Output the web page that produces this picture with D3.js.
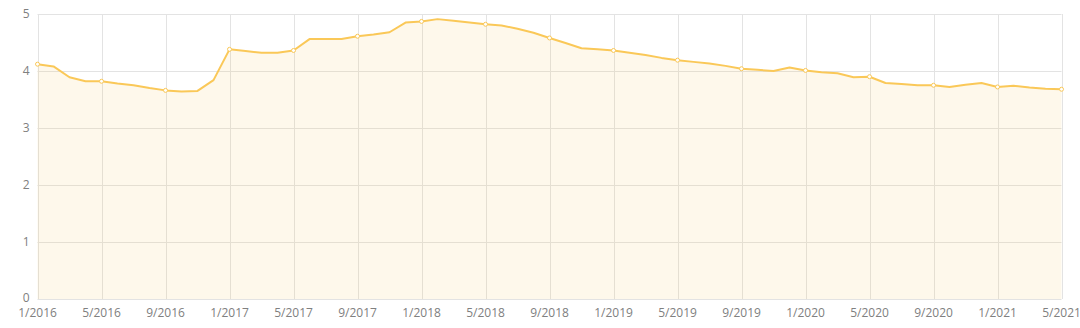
<!DOCTYPE html>
<html>
<head>
<meta charset="utf-8">
<script src="https://cdn.jsdelivr.net/npm/d3@7"></script>
<style>
  html, body { margin: 0; padding: 0; background: #fff; }
  svg { display: block; font-family: "Open Sans", sans-serif; }
</style>
</head>
<body>
<svg width="1080" height="328"></svg>
<script>
// monthly values, 1/2016 .. 5/2021
const values = [
  4.12, 4.08, 3.89, 3.82, 3.82, 3.78, 3.75, 3.70, 3.66, 3.64, 3.65, 3.84,
  4.38, 4.35, 4.32, 4.32, 4.36, 4.56, 4.56, 4.56, 4.61, 4.64, 4.68, 4.85,
  4.87, 4.91, 4.88, 4.85, 4.82, 4.80, 4.74, 4.67, 4.58, 4.49, 4.40, 4.38,
  4.36, 4.32, 4.28, 4.23, 4.19, 4.16, 4.13, 4.09, 4.04, 4.02, 4.00, 4.06,
  4.01, 3.98, 3.96, 3.89, 3.90, 3.79, 3.77, 3.75, 3.75, 3.72, 3.76, 3.79,
  3.72, 3.74, 3.71, 3.69, 3.68
];
const months = d3.timeMonth.range(new Date(2016, 0, 1), new Date(2021, 5, 1));
const labels = months.map(d => `${d.getMonth() + 1}/${d.getFullYear()}`);
const yTicks = [0, 1, 2, 3, 4, 5];
const labelEvery = 4;

const margin = { top: 14, right: 18.5, bottom: 29, left: 37.5 };
const width = 1080, height = 328;

const svg = d3.select('svg');

const x = d3.scalePoint()
  .domain(labels)
  .range([margin.left, width - margin.right]);

const y = d3.scaleLinear()
  .domain([0, 5])
  .range([height - margin.bottom, margin.top]);

const tickLabels = labels.filter((_, i) => i % labelEvery === 0);

// grid
svg.append('g')
  .selectAll('line.h')
  .data(yTicks)
  .join('line')
  .attr('x1', margin.left)
  .attr('x2', width - margin.right)
  .attr('y1', d => Math.round(y(d)) + 0.5)
  .attr('y2', d => Math.round(y(d)) + 0.5)
  .attr('stroke', '#e3e3e3');

svg.append('g')
  .selectAll('line.v')
  .data(tickLabels)
  .join('line')
  .attr('x1', d => Math.round(x(d)) + 0.5)
  .attr('x2', d => Math.round(x(d)) + 0.5)
  .attr('y1', margin.top)
  .attr('y2', height - margin.bottom)
  .attr('stroke', '#e3e3e3');

// area + line
const area = d3.area()
  .x((d, i) => x(labels[i]))
  .y0(y(0))
  .y1(d => y(d));

const line = d3.line()
  .x((d, i) => x(labels[i]))
  .y(d => y(d));

svg.append('path')
  .datum(values)
  .attr('d', area)
  .attr('fill', '#fac858')
  .attr('fill-opacity', 0.12);

svg.append('path')
  .datum(values)
  .attr('d', line)
  .attr('fill', 'none')
  .attr('stroke', '#fac858')
  .attr('stroke-width', 2)
  .attr('stroke-linejoin', 'round');

svg.append('g')
  .selectAll('circle')
  .data(values.map((v, i) => ({ v, i })).filter(d => d.i % labelEvery === 0))
  .join('circle')
  .attr('cx', d => x(labels[d.i]))
  .attr('cy', d => y(d.v))
  .attr('r', 2)
  .attr('fill', '#fff')
  .attr('stroke', '#fac858')
  .attr('stroke-width', 1);

// axis labels
svg.append('g')
  .selectAll('text')
  .data(yTicks)
  .join('text')
  .attr('x', margin.left - 8)
  .attr('y', d => y(d) - (d === 0 ? 1 : 0))
  .attr('dy', '0.35em')
  .attr('text-anchor', 'end')
  .attr('font-size', 12)
  .attr('fill', '#808080')
  .text(d => d);

svg.append('g')
  .selectAll('text')
  .data(tickLabels)
  .join('text')
  .attr('x', d => x(d))
  .attr('y', height - margin.bottom + 14)
  .attr('dy', '0.35em')
  .attr('text-anchor', 'middle')
  .attr('font-size', 12)
  .attr('fill', '#808080')
  .text(d => d);
</script>
</body>
</html>
